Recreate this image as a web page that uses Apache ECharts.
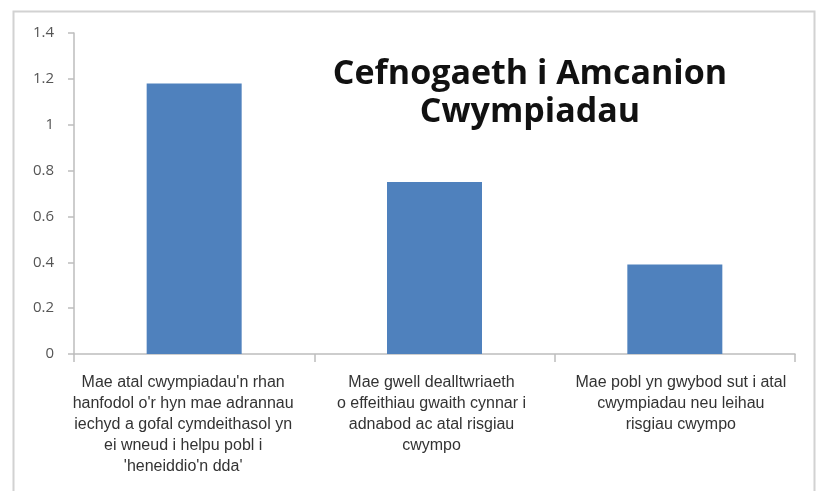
<!DOCTYPE html>
<html><head><meta charset="utf-8">
<script src="https://cdn.jsdelivr.net/npm/echarts@6/dist/echarts.min.js"></script>
<style>html,body{margin:0;padding:0;background:#fff}#c{width:819px;height:491px}</style>
</head><body><div id="c"></div>
<script>
const categories = [
  "Mae atal cwympiadau'n rhan\nhanfodol o'r hyn mae adrannau\niechyd a gofal cymdeithasol yn\nei wneud i helpu pobl i\n'heneiddio'n dda'",
  "Mae gwell dealltwriaeth\no effeithiau gwaith cynnar i\nadnabod ac atal risgiau\ncwympo",
  "Mae pobl yn gwybod sut i atal\ncwympiadau neu leihau\nrisgiau cwympo"
];
const values = [1.18, 0.75, 0.39];
const titleText = "Cefnogaeth i Amcanion\nCwympiadau";

const labelPads = [[0,22,0,0],[0,6,0,0],[0,0,0,12]];
const chart = echarts.init(document.getElementById('c'), null, {renderer:'canvas'});
chart.setOption({
  animation:false,
  backgroundColor:'#fff',
  graphic:[{type:'rect', left:11, top:9, shape:{width:801, height:490}, style:{fill:'none', stroke:'#d2d2d2', lineWidth:2}}],
  title:{text:titleText, left:525, top:50, textAlign:'center',
    textStyle:{fontFamily:'Open Sans', fontWeight:'bold', fontSize:34, color:'#111', lineHeight:38}},
  grid:{left:74, right:24, top:33, bottom:137, containLabel:false},
  xAxis:{type:'category',
    data:categories.map((c,i)=>({value:c, textStyle:{padding:labelPads[i]}})),
    axisLine:{lineStyle:{color:'#bdbdbd', width:1.5}},
    axisTick:{show:true, alignWithLabel:false, length:8, lineStyle:{color:'#bdbdbd', width:1.5}},
    axisLabel:{interval:0, color:'#333', fontFamily:'Liberation Sans', fontSize:16, lineHeight:21, margin:18}},
  yAxis:{type:'value', min:0, max:1.4, interval:0.2,
    axisLine:{show:true, lineStyle:{color:'#bdbdbd', width:1.5}},
    axisTick:{show:true, length:6, lineStyle:{color:'#bdbdbd', width:1.5}},
    splitLine:{show:false},
    axisLabel:{color:'#555', fontFamily:'Open Sans', fontSize:15, margin:20,
      formatter:v=>String(Math.round(v*10)/10)}},
  series:[{type:'bar', data:values, barWidth:95, itemStyle:{color:'#4f81bd'}}]
});
</script></body></html>
